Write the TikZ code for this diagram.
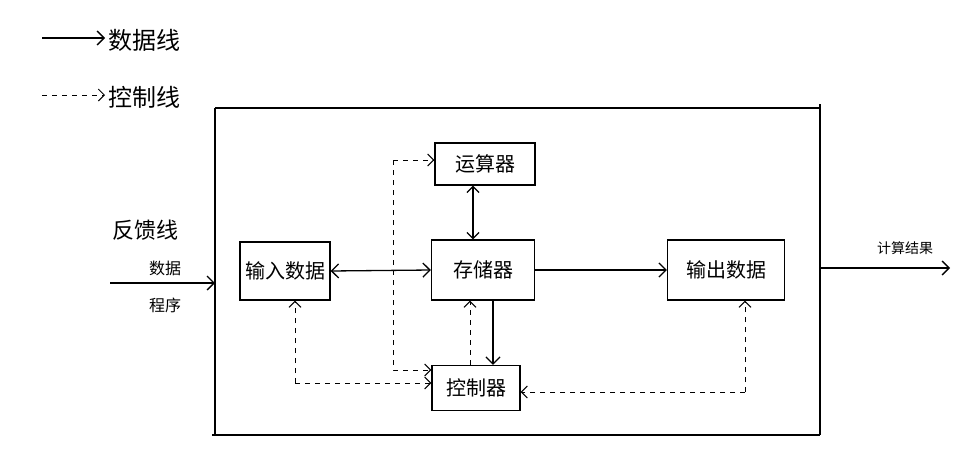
\documentclass[tikz,border=0pt]{standalone}
\usepackage{fontspec}
\usepackage{tikz}
\usetikzlibrary{arrows.meta}
\newfontfamily\cjk{Noto Sans CJK SC}

\begin{document}
\begin{tikzpicture}[x=1pt,y=-1pt,line width=1.3pt,
  unit/.style={draw,minimum width=#1,minimum height=44pt,font=\cjk\fontsize{20}{24}\selectfont},
  data/.style={-{Straight Barb[length=7pt]}},
  ctrl/.style={line width=1pt,dash pattern=on 5pt off 5pt,-{Straight Barb[length=6pt]}},
  lbl/.style={font=\cjk\fontsize{#1}{#1}\selectfont}]
\useasboundingbox (0,0) rectangle (979,474);
%
\coordinate (l1a) at (42,38);  \coordinate (l1b) at (105,38);
\coordinate (l2a) at (42,95);  \coordinate (l2b) at (105,95);
\draw[data] (l1a) -- (l1b);
\draw[ctrl] (l2a) -- (l2b);
\node[lbl=24,anchor=west] (t1) at (105,40) {数据线};
\node[lbl=24,anchor=west] (t2) at (105,97) {控制线};
%
\draw (215,108) -- (820,108);
\draw (215,108) -- (215,435);
\draw (212,435) -- (820,435);
\draw (820,104) -- (820,435);
%
\node[unit=90pt,minimum height=58pt] (v0) at (285,271) {输入数据};
\node[unit=100pt,minimum height=42pt] (v1) at (485,164) {运算器};
\node[unit=103pt,minimum height=60pt] (v2) at (483,270) {存储器};
\node[unit=117pt,minimum height=60pt] (v3) at (726,270) {输出数据};
\node[unit=88pt,minimum height=45pt] (v4) at (476,388) {控制器};
%
\coordinate (in) at (110,283);  \coordinate (inE) at (215,283);
\draw[data] (in) -- (inE);
\node[lbl=16] (n0) at (165,268) {数据};
\node[lbl=16] (n1) at (165,305) {程序};
\node[lbl=22] (n2) at (145,230) {反馈线};
%
\coordinate (x0) at (473,0);  \coordinate (x1) at (493,0);  \coordinate (x2) at (470,0);
\draw[{Straight Barb[length=7pt]}-{Straight Barb[length=7pt]}] (v0.east) -- (v2.west);
\draw[data] (v2.east) -- (v3.west);
\draw[{Straight Barb[length=6pt]}-{Straight Barb[length=6pt]}] (v1.south -| x0) -- (v2.north -| x0);
\draw[data] (v2.south -| x1) -- (v4.north -| x1);
\draw[ctrl] (v4.north -| x2) -- (v2.south -| x2);
%
\coordinate (c0) at (393,160);  \coordinate (c1) at (393,370);
\draw[ctrl] (c0) -- (v1.west |- c0);
\draw[ctrl] (c0) -- (c1) -- (v4.west |- c1);
\coordinate (c2) at (295,383);
\draw[ctrl] (c2) -- (v0.south -| c2);
\draw[ctrl] (c2) -- (v4.west |- c2);
\coordinate (c3) at (745,392);
\draw[ctrl] (c3) -- (v4.east |- c3);
\draw[ctrl] (c3) -- (v3.south -| c3);
%
\coordinate (outW) at (820,268);  \coordinate (out) at (950,268);
\draw[data] (outW) -- (out);
\node[lbl=14] (n3) at (905,248) {计算结果};
\end{tikzpicture}
\end{document}
